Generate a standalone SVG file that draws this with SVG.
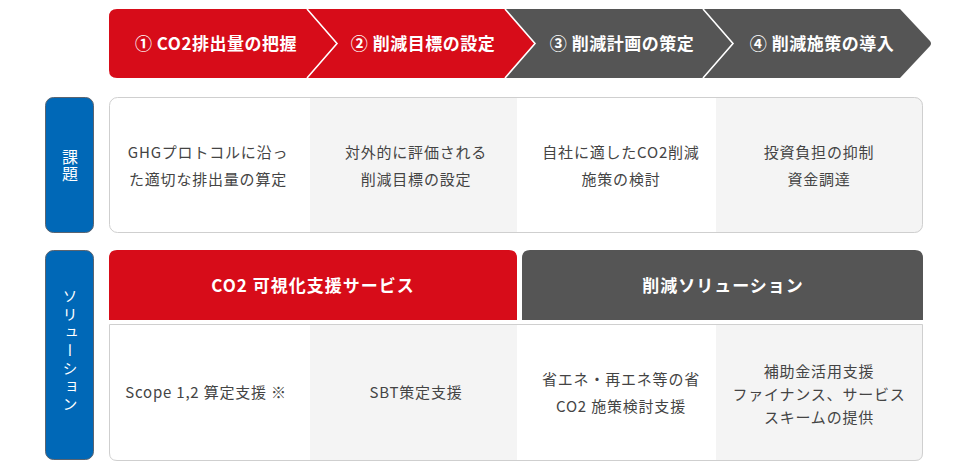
<svg xmlns="http://www.w3.org/2000/svg" width="980" height="471" viewBox="0 0 980 471">
<defs>
<style>
.red{fill:#d70c19}
.dark{fill:#555555}
.sep{fill:none;stroke:#ffffff;stroke-width:1.6}
.step{font-family:"Noto Sans CJK JP","Noto Sans",sans-serif;font-weight:700;font-size:17px;fill:#ffffff;text-anchor:middle;letter-spacing:0.5px}
.hdr{font-family:"Noto Sans CJK JP","Noto Sans",sans-serif;font-weight:700;font-size:17px;fill:#ffffff;text-anchor:middle;letter-spacing:1px}
.cell{font-family:"Noto Sans CJK JP","Noto Sans",sans-serif;font-size:15px;fill:#444444;text-anchor:middle;letter-spacing:0.8px}
.lbl{fill:#0068b7;stroke:#5b6470;stroke-width:1}
.vt{font-family:"Noto Sans CJK JP","Noto Sans",sans-serif;font-size:15px;fill:#ffffff;text-anchor:middle;writing-mode:vertical-rl}
.gray{fill:#f4f4f4}
.white{fill:#ffffff}
.border{fill:none;stroke:#cfcfcf;stroke-width:1}
</style>
<clipPath id="c1"><rect x="109" y="97" width="814" height="136" rx="8"/></clipPath>
<clipPath id="c2"><path d="M109,324 H923 V453 Q923,461 915,461 H117 Q109,461 109,453 Z"/></clipPath>
</defs>

<g id="steps">
<g id="step1">
<path class="red" d="M117,9 H307 L337,43.5 L307,78 H117 Q109,78 109,70 V17 Q109,9 117,9 Z"/>
<text class="step" x="216" y="50">① CO2排出量の把握</text>
</g>
<g id="step2">
<path class="red" d="M307,9 H505 L535,43.5 L505,78 H307 L337,43.5 Z"/>
<text class="step" x="423" y="50">② 削減目標の設定</text>
</g>
<g id="step3">
<path class="dark" d="M505,9 H703 L733,43.5 L703,78 H505 L535,43.5 Z"/>
<text class="step" x="622" y="50">③ 削減計画の策定</text>
</g>
<g id="step4">
<path class="dark" d="M703,9 H900 L930,41 Q932,43.5 930,46 L900,78 H703 L733,43.5 Z"/>
<text class="step" x="822" y="50">④ 削減施策の導入</text>
</g>
<polyline class="sep" points="307,9 337,43.5 307,78"/>
<polyline class="sep" points="505,9 535,43.5 505,78"/>
<polyline class="sep" points="703,9 733,43.5 703,78"/>
</g>

<g id="label-kadai">
<rect class="lbl" x="45.5" y="97.5" width="48" height="135" rx="8"/>
<text class="vt" x="70" y="166" style="font-size:16px;letter-spacing:1px">課題</text>
</g>

<g id="row1">
<g clip-path="url(#c1)">
<rect class="white" x="109" y="97" width="201" height="136"/>
<rect class="gray" x="310" y="97" width="207" height="136"/>
<rect class="white" x="517" y="97" width="199" height="136"/>
<rect class="gray" x="716" y="97" width="207" height="136"/>
</g>
<rect class="border" x="109.5" y="97.5" width="813" height="135" rx="8"/>
<g id="issue1"><text class="cell" x="208" y="158">GHGプロトコルに沿っ</text><text class="cell" x="208" y="185">た適切な排出量の算定</text></g>
<g id="issue2"><text class="cell" x="416" y="158">対外的に評価される</text><text class="cell" x="416" y="185">削減目標の設定</text></g>
<g id="issue3"><text class="cell" x="621" y="158">自社に適したCO2削減</text><text class="cell" x="621" y="185">施策の検討</text></g>
<g id="issue4"><text class="cell" x="819" y="158">投資負担の抑制</text><text class="cell" x="819" y="185">資金調達</text></g>
</g>

<g id="label-solution">
<rect class="lbl" x="45.5" y="250.5" width="48" height="209" rx="8"/>
<text class="vt" x="70" y="352" style="letter-spacing:3px">ソリューション</text>
</g>

<g id="header-visual">
<path class="red" d="M117,250 H509 Q517,250 517,258 V320 H109 V258 Q109,250 117,250 Z"/>
<text class="hdr" x="313" y="292">CO2 可視化支援サービス</text>
</g>
<g id="header-reduction">
<path class="dark" d="M530,250 H915 Q923,250 923,258 V320 H522 V258 Q522,250 530,250 Z"/>
<text class="hdr" x="723" y="292">削減ソリューション</text>
</g>

<g id="row2">
<g clip-path="url(#c2)">
<rect class="white" x="109" y="324" width="201" height="137"/>
<rect class="gray" x="310" y="324" width="207" height="137"/>
<rect class="white" x="517" y="324" width="199" height="137"/>
<rect class="gray" x="716" y="324" width="207" height="137"/>
</g>
<path class="border" d="M109.5,324.5 H922.5 V453 Q922.5,460.5 915,460.5 H117 Q109.5,460.5 109.5,453 Z"/>
<g id="sol1"><text class="cell" x="206" y="398">Scope 1,2 算定支援 ※</text></g>
<g id="sol2"><text class="cell" x="416" y="398">SBT策定支援</text></g>
<g id="sol3"><text class="cell" x="621" y="385">省エネ・再エネ等の省</text><text class="cell" x="621" y="412">CO2 施策検討支援</text></g>
<g id="sol4"><text class="cell" x="819" y="377">補助金活用支援</text><text class="cell" x="819" y="400">ファイナンス、サービス</text><text class="cell" x="819" y="423">スキームの提供</text></g>
</g>
</svg>
